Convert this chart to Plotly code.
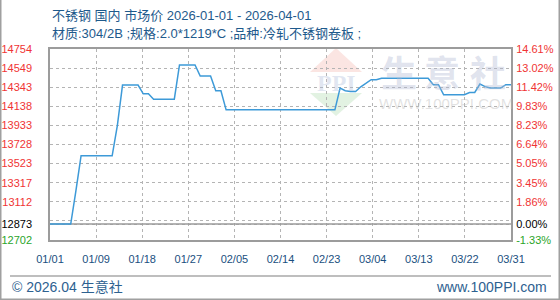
import plotly.graph_objects as go
import pandas as pd

# ---------------- data ----------------
TITLE = "不锈钢 国内 市场价 2026-01-01 - 2026-04-01"
SUBTITLE = "材质:304/2B ;规格:2.0*1219*C ;品种:冷轧不锈钢卷板 ;"
FOOTER_LEFT = "© 2026.04 生意社"
FOOTER_RIGHT = "www.100PPI.com"

DATES = list(pd.date_range("2026-01-01", "2026-03-31", freq="D"))

PRICES = [
    12873, 12873, 12873, 12873, 12873,
    13230,
    13607, 13607, 13607, 13607, 13607, 13607, 13607,
    13930,
    14366, 14366, 14366, 14366,
    14273, 14273,
    14215, 14215, 14215, 14215, 14215,
    14582, 14582, 14582, 14582,
    14463, 14463, 14463,
    14305, 14305,
    14100, 14100, 14100, 14100, 14100, 14100, 14100, 14100, 14100, 14100, 14100,
    14100, 14100, 14100, 14100, 14100, 14100, 14100, 14100, 14100, 14100, 14100,
    14334,
    14305,
    14297, 14297,
    14348,
    14388,
    14424, 14424,
    14440, 14440, 14440, 14440, 14440, 14440, 14440, 14440, 14440, 14440,
    14370, 14370,
    14262, 14262, 14262, 14262, 14262,
    14287, 14287,
    14377,
    14350,
    14334, 14334, 14334,
    14370, 14370,
]

X_TICK_LABELS = ["01/01", "01/09", "01/18", "01/27", "02/05", "02/14",
                 "02/23", "03/04", "03/13", "03/22", "03/31"]
Y_TICK_VALUES = [12702, 12873, 13112, 13317, 13523, 13728, 13933, 14138, 14343, 14549, 14754]
BASE = 12873
Y_MIN, Y_MAX = 12702, 14754

# ---------------- layout geometry ----------------
W, H = 560, 300
ML, MR, MT, MB = 50, 49, 49, 60
PW, PH = W - ML - MR, H - MT - MB


def px(xp):
    return (xp - ML) / PW


def py(yp):
    return (H - MB - yp) / PH


RED, BLACK, GREEN = "#f03434", "#000000", "#2aa52a"


def col(v):
    return BLACK if v == BASE else (GREEN if v < BASE else RED)


# regular grid: ten equal divisions of the value range (one unlabelled line near the base)
y_step = (Y_MAX - Y_MIN) / 10
grid_extra = Y_MIN + y_step
y_tickvals = Y_TICK_VALUES + [grid_extra]
left_text = [f'<span style="color:{col(v)}">{v}</span>' for v in Y_TICK_VALUES] + [""]
right_text = [f'<span style="color:{col(v)}">{(v - BASE) / BASE * 100:.2f}%</span>' for v in Y_TICK_VALUES]

n_int = len(X_TICK_LABELS) - 1
span_days = (DATES[-1] - DATES[0]) / pd.Timedelta(days=1)
x_tickvals = [(DATES[0] + pd.Timedelta(days=span_days * k / n_int)).round("s").to_pydatetime()
              for k in range(n_int + 1)]

GRID = "#b4b4b4"
FRAME = "#9c9c9c"
CLEAR = "rgba(0,0,0,0)"
FONT = "Liberation Sans, Noto Sans CJK SC"
X0, X1 = DATES[0], DATES[-1]

fig = go.Figure()
# baseline (reference price level)
fig.add_trace(go.Scatter(x=[X0, X1], y=[BASE, BASE], mode="lines",
                         line=dict(color="#9a9a9a", width=1.5),
                         showlegend=False, hoverinfo="skip"))
fig.add_trace(go.Scatter(x=DATES, y=PRICES, mode="lines",
                         line=dict(color="#3d9ad8", width=1.5),
                         showlegend=False, hoverinfo="x+y"))
fig.add_trace(go.Scatter(x=[X0], y=[None], yaxis="y2", mode="lines",
                         showlegend=False, hoverinfo="skip"))

fig.update_layout(
    width=W, height=H,
    margin=dict(l=ML, r=MR, t=MT, b=MB, pad=0, autoexpand=False),
    paper_bgcolor="white", plot_bgcolor="white",
    font=dict(family=FONT, size=11, color="#1a4f80"),
    xaxis=dict(
        type="date", range=[X0, X1], automargin=False,
        tickmode="array", tickvals=x_tickvals, ticktext=X_TICK_LABELS,
        showgrid=True, gridcolor=GRID, gridwidth=1.2, griddash="dot",
        showline=True, linecolor=FRAME, linewidth=1.5, mirror=True,
        ticks="outside", ticklen=8, tickcolor=CLEAR, zeroline=False,
        tickfont=dict(size=11, color="#1a4f80"),
    ),
    yaxis=dict(
        range=[Y_MIN, Y_MAX], automargin=False,
        tickmode="array", tickvals=y_tickvals, ticktext=left_text,
        showgrid=True, gridcolor=GRID, gridwidth=1.2, griddash="dot",
        showline=True, linecolor=FRAME, linewidth=1.5, mirror=True,
        ticks="outside", ticklen=14, tickcolor=CLEAR, zeroline=False,
        tickfont=dict(size=11),
    ),
    yaxis2=dict(
        overlaying="y", side="right", anchor="x", automargin=False,
        range=[Y_MIN, Y_MAX], tickmode="array", tickvals=Y_TICK_VALUES, ticktext=right_text,
        showgrid=False, showline=False, ticks="outside", ticklen=2, tickcolor=CLEAR,
        zeroline=False, tickfont=dict(size=11),
    ),
)

# watermark: PPI logo
fig.add_shape(type="path", xref="paper", yref="paper",
              path=f"M {px(336)},{py(48)} L {px(310)},{py(72)} L {px(362)},{py(72)} Z",
              fillcolor="rgba(240,150,140,0.25)", line=dict(width=0), layer="below")
fig.add_shape(type="path", xref="paper", yref="paper",
              path=f"M {px(310)},{py(93)} L {px(362)},{py(93)} L {px(336)},{py(116)} Z",
              fillcolor="rgba(140,205,140,0.25)", line=dict(width=0), layer="below")
fig.add_annotation(text="<b>PPI</b>", xref="paper", yref="paper", x=px(336), y=py(83),
                   showarrow=False, xanchor="center", yanchor="middle",
                   font=dict(family="Liberation Serif", size=24, color="rgba(170,185,215,0.35)"))
for ch, cx in zip("生意社", (399, 442, 488)):
    fig.add_annotation(text=f"<b>{ch}</b>", xref="paper", yref="paper", x=px(cx), y=py(71),
                       showarrow=False, xanchor="center", yanchor="middle",
                       font=dict(family="Noto Sans CJK SC", size=36, color="rgba(175,185,210,0.4)"))
fig.add_annotation(text="WWW.100PPI.COM", xref="paper", yref="paper", x=px(446), y=py(103),
                   showarrow=False, xanchor="center", yanchor="middle",
                   font=dict(family="Liberation Sans", size=15, color="rgba(190,190,190,0.45)"))

# titles
fig.add_annotation(text=TITLE, xref="paper", yref="paper", x=0, y=1, yshift=MT - 15,
                   xanchor="left", yanchor="middle", showarrow=False,
                   font=dict(family=FONT, size=13, color="#1e5a8c"))
fig.add_annotation(text=SUBTITLE, xref="paper", yref="paper", x=0, y=1, yshift=MT - 33,
                   xanchor="left", yanchor="middle", showarrow=False,
                   font=dict(family=FONT, size=13, color="#1e5a8c"))

# footer
fig.add_shape(type="line", xref="paper", yref="paper", x0=px(10), x1=px(551), y0=py(276), y1=py(276),
              line=dict(color="#a8a8a8", width=1.5))
fig.add_annotation(text=FOOTER_LEFT, xref="paper", yref="paper", x=px(10), y=py(287),
                   xanchor="left", yanchor="middle", showarrow=False,
                   font=dict(family=FONT, size=14, color="#2d6190"))
fig.add_annotation(text=FOOTER_RIGHT, xref="paper", yref="paper", x=px(549), y=py(287),
                   xanchor="right", yanchor="middle", showarrow=False,
                   font=dict(family=FONT, size=14, color="#2d6190"))

# outer border (left, right, bottom)
for x0, y0, x1, y1 in ((0.75, 0, 0.75, 299.25), (559.25, 0, 559.25, 299.25), (0, 299.25, 560, 299.25)):
    fig.add_shape(type="line", xref="paper", yref="paper", x0=px(x0), x1=px(x1), y0=py(y0), y1=py(y1),
                  line=dict(color="#a0a0a0", width=1.5))

fig.write_html("out.html")
